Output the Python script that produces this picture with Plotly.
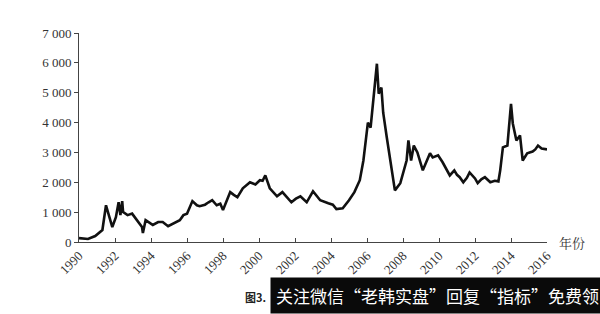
import plotly.graph_objects as go

years = [1990.0, 1990.5, 1990.9, 1991.3, 1991.5, 1991.85, 1992.05, 1992.2, 1992.3, 1992.4,
         1992.45, 1992.7, 1992.95, 1993.2, 1993.5, 1993.55, 1993.7, 1993.95, 1994.1, 1994.4,
         1994.65, 1994.95, 1995.3, 1995.6, 1995.8, 1996.0, 1996.3, 1996.55, 1996.7, 1997.0,
         1997.2, 1997.4, 1997.65, 1997.85, 1998.0, 1998.4, 1998.6, 1998.8, 1999.1, 1999.3,
         1999.5, 1999.8, 2000.05, 2000.2, 2000.35, 2000.6, 2000.8, 2001.0, 2001.3, 2001.55,
         2001.8, 2002.05, 2002.3, 2002.65, 2003.0, 2003.2, 2003.4, 2003.85, 2004.1, 2004.3,
         2004.65, 2005.0, 2005.3, 2005.6, 2005.8, 2006.05, 2006.2, 2006.55, 2006.65, 2006.8,
         2006.9, 2007.1, 2007.3, 2007.55, 2007.85, 2008.2, 2008.3, 2008.45, 2008.6, 2008.8,
         2009.1, 2009.3, 2009.5, 2009.65, 2009.95, 2010.2, 2010.4, 2010.6, 2010.85, 2011.0,
         2011.15, 2011.35, 2011.55, 2011.7, 2012.0, 2012.15, 2012.35, 2012.55, 2012.85, 2013.1,
         2013.3, 2013.4, 2013.55, 2013.8, 2014.0, 2014.1, 2014.3, 2014.5, 2014.65, 2014.9,
         2015.2, 2015.35, 2015.5, 2015.7, 2016.0]
index_values = [130, 100, 200, 400, 1230, 500, 830, 1330, 900, 1370,
                1000, 900, 950, 730, 500, 300, 730, 630, 570, 670,
                670, 530, 630, 730, 900, 950, 1370, 1230, 1200, 1250,
                1330, 1400, 1230, 1280, 1070, 1670, 1580, 1500, 1800, 1900,
                2000, 1930, 2070, 2050, 2230, 1800, 1650, 1530, 1670, 1500,
                1330, 1450, 1530, 1330, 1700, 1550, 1400, 1300, 1250, 1100,
                1130, 1400, 1670, 2070, 2730, 4000, 3830, 5970, 4970, 5170,
                4330, 3500, 2730, 1730, 1970, 2730, 3400, 2730, 3230, 3000,
                2400, 2700, 2970, 2830, 2900, 2670, 2450, 2230, 2400, 2250,
                2170, 2000, 2150, 2330, 2130, 1970, 2100, 2170, 2000, 2050,
                2030, 2400, 3170, 3230, 4630, 3970, 3400, 3570, 2730, 2970,
                3030, 3100, 3230, 3130, 3100]

y_ticks = [0, 1000, 2000, 3000, 4000, 5000, 6000, 7000]
y_tick_labels = ["0", "1 000", "2 000", "3 000", "4 000", "5 000", "6 000", "7 000"]
x_ticks = list(range(1990, 2017, 2))
x_tick_labels = [str(v) for v in x_ticks]

serif = "Times New Roman"
axis_color = "#444444"

fig = go.Figure()
fig.add_trace(go.Scatter(x=years, y=index_values, mode="lines",
                         line=dict(color="#111111", width=2.6), showlegend=False))

fig.update_layout(
    width=600, height=314,
    margin=dict(l=79, r=53, t=33, b=72),
    paper_bgcolor="white", plot_bgcolor="white",
    font=dict(family=serif),
    xaxis=dict(range=[1990, 2016], tickvals=x_ticks, ticktext=x_tick_labels,
               tickangle=-45, ticks="inside", ticklen=4, tickcolor=axis_color,
               showline=True, linecolor=axis_color, linewidth=1, showgrid=False,
               zeroline=False, tickfont=dict(family=serif, size=13, color="#333333")),
    yaxis=dict(range=[0, 7000], tickvals=y_ticks, ticktext=y_tick_labels,
               ticks="outside", ticklen=4, tickcolor=axis_color,
               showline=True, linecolor=axis_color, linewidth=1, showgrid=False,
               zeroline=False, tickfont=dict(family=serif, size=13, color="#333333")),
)

fig.add_annotation(x=1, y=0, xref="paper", yref="paper", text="年份", showarrow=False,
                   xanchor="left", yanchor="middle", xshift=10,
                   font=dict(family="Noto Serif CJK SC, Noto Sans CJK SC", size=13, color="#333333"))

fig.add_annotation(x=(243 - 79) / 468, y=-(297 - 242) / 209, xref="paper", yref="paper",
                   text="<b>图3.</b>", showarrow=False, xanchor="left", yanchor="middle",
                   font=dict(family="Noto Sans CJK SC", size=11, color="#222222"))

fig.add_annotation(x=(270 - 79) / 468, y=-(314 - 242) / 209, xref="paper", yref="paper",
                   text="关注微信“老韩实盘”回复“指标”免费领", showarrow=False,
                   xanchor="left", yanchor="bottom", bgcolor="#0a0a0a",
                   borderpad=5, font=dict(family="Noto Sans CJK SC", size=17, color="white"))

fig.write_html("out.html")
